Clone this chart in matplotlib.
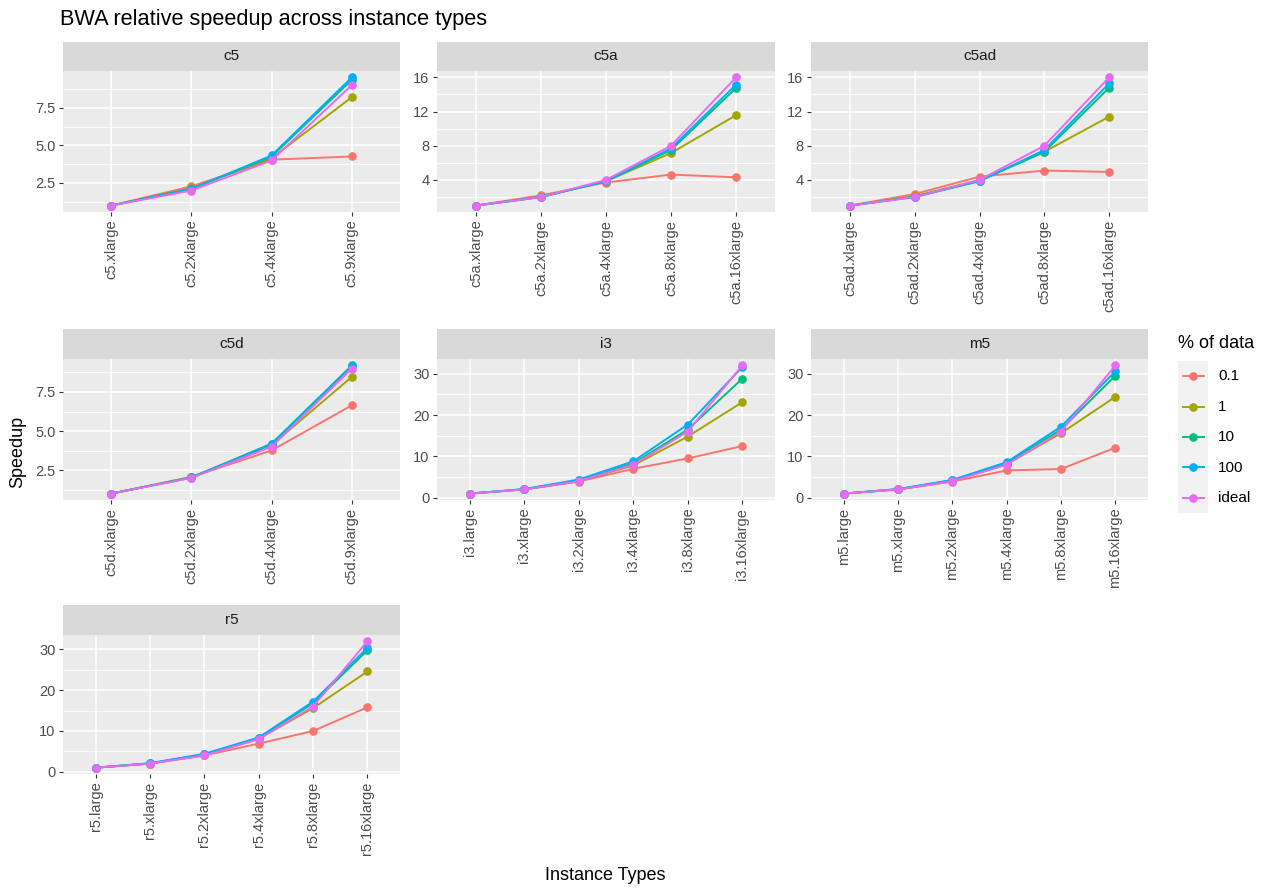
import matplotlib
matplotlib.use("Agg")
import matplotlib.pyplot as plt
import numpy as np

# data
families = ["c5", "c5a", "c5ad", "c5d", "i3", "m5", "r5"]
pct_levels = ["0.1", "1", "10", "100", "ideal"]
colors = ["#F8766D", "#A3A500", "#00BF7D", "#00B0F6", "#E76BF3"]

c5_types = ["c5.xlarge", "c5.2xlarge", "c5.4xlarge", "c5.9xlarge"]
c5_speedup = {
    "0.1": [1, 2.28, 4.05, 4.26],
    "1": [1, 2.15, 4.15, 8.2],
    "10": [1, 2.12, 4.25, 9.35],
    "100": [1, 2.1, 4.33, 9.51],
    "ideal": [1, 2, 4, 9],
}

c5a_types = ["c5a.xlarge", "c5a.2xlarge", "c5a.4xlarge", "c5a.8xlarge", "c5a.16xlarge"]
c5a_speedup = {
    "0.1": [1, 2.2, 3.7, 4.63, 4.31],
    "1": [1, 2.05, 3.85, 7.15, 11.57],
    "10": [1, 2.0, 3.85, 7.5, 14.75],
    "100": [1, 2.0, 3.85, 7.7, 15.15],
    "ideal": [1, 2, 4, 8, 16],
}

c5ad_types = ["c5ad.xlarge", "c5ad.2xlarge", "c5ad.4xlarge", "c5ad.8xlarge", "c5ad.16xlarge"]
c5ad_speedup = {
    "0.1": [1, 2.35, 4.39, 5.1, 4.94],
    "1": [1, 2.1, 4.0, 7.3, 11.4],
    "10": [1, 2.05, 3.9, 7.28, 14.8],
    "100": [1, 2.0, 3.85, 7.5, 15.3],
    "ideal": [1, 2, 4, 8, 16],
}

c5d_types = ["c5d.xlarge", "c5d.2xlarge", "c5d.4xlarge", "c5d.9xlarge"]
c5d_speedup = {
    "0.1": [1, 2.07, 3.76, 6.65],
    "1": [1, 2.05, 4.1, 8.47],
    "10": [1, 2.03, 4.2, 9.2],
    "100": [1, 2.02, 4.15, 9.15],
    "ideal": [1, 2, 4, 9],
}

i3_types = ["i3.large", "i3.xlarge", "i3.2xlarge", "i3.4xlarge", "i3.8xlarge", "i3.16xlarge"]
i3_speedup = {
    "0.1": [1, 2.0, 3.9, 7.0, 9.5, 12.5],
    "1": [1, 2.0, 4.0, 7.8, 14.8, 23.1],
    "10": [1, 2.05, 4.2, 8.3, 16.5, 28.8],
    "100": [1, 2.1, 4.4, 8.8, 17.7, 31.6],
    "ideal": [1, 2, 4, 8, 16, 32],
}

m5_types = ["m5.large", "m5.xlarge", "m5.2xlarge", "m5.4xlarge", "m5.8xlarge", "m5.16xlarge"]
m5_speedup = {
    "0.1": [1, 2.0, 3.9, 6.6, 6.95, 12.1],
    "1": [1, 2.0, 4.0, 8.1, 15.6, 24.4],
    "10": [1, 2.05, 4.2, 8.4, 16.5, 29.5],
    "100": [1, 2.1, 4.3, 8.6, 17.2, 30.6],
    "ideal": [1, 2, 4, 8, 16, 32],
}

r5_types = ["r5.large", "r5.xlarge", "r5.2xlarge", "r5.4xlarge", "r5.8xlarge", "r5.16xlarge"]
r5_speedup = {
    "0.1": [1, 2.0, 4.0, 6.9, 10.0, 15.8],
    "1": [1, 2.0, 4.1, 8.1, 15.6, 24.6],
    "10": [1, 2.05, 4.25, 8.3, 16.8, 29.8],
    "100": [1, 2.1, 4.4, 8.4, 17.2, 30.4],
    "ideal": [1, 2, 4, 8, 16, 32],
}

types = {"c5": c5_types, "c5a": c5a_types, "c5ad": c5ad_types, "c5d": c5d_types,
         "i3": i3_types, "m5": m5_types, "r5": r5_types}
speedups = {"c5": c5_speedup, "c5a": c5a_speedup, "c5ad": c5ad_speedup, "c5d": c5d_speedup,
            "i3": i3_speedup, "m5": m5_speedup, "r5": r5_speedup}
steps = {"c5": 2.5, "c5a": 4, "c5ad": 4, "c5d": 2.5, "i3": 10, "m5": 10, "r5": 10}

W, H = 1280, 896
fig = plt.figure(figsize=(W / 100, H / 100), dpi=100)
plt.rcParams['font.family'] = ['Liberation Sans', 'DejaVu Sans']


def rect(x0, y0, x1, y1):
    return [x0 / W, 1 - y1 / H, (x1 - x0) / W, (y1 - y0) / H]


cols = [(63, 400), (437, 775), (811, 1148)]
rows = [(42, 71, 212), (329, 359, 500), (605, 635, 774)]

for i, fam in enumerate(families):
    r, c = divmod(i, 3)
    x0, x1 = cols[c]
    st, top, bot = rows[r]

    # strip
    sax = fig.add_axes(rect(x0, st, x1, top))
    sax.set_facecolor("#D9D9D9")
    sax.set_xticks([])
    sax.set_yticks([])
    for s in sax.spines.values():
        s.set_visible(False)
    sax.text(0.5, 0.5, fam, ha="center", va="center", fontsize=11, color="#1A1A1A",
             transform=sax.transAxes)

    ax = fig.add_axes(rect(x0, top, x1, bot))
    ax.set_facecolor("#EBEBEB")
    for s in ax.spines.values():
        s.set_visible(False)

    labels = types[fam]
    xs = np.arange(len(labels))
    allv = np.concatenate([np.array(v, float) for v in speedups[fam].values()])
    lo, hi = allv.min(), allv.max()
    pad = 0.05 * (hi - lo)
    ax.set_ylim(lo - pad, hi + pad)
    ax.set_xlim(-0.6, len(labels) - 1 + 0.6)

    step = steps[fam]
    major = np.arange(0, hi + pad + 1e-9, step)
    major = major[major >= lo - pad]
    minor = np.arange(step / 2, hi + pad, step)
    minor = minor[(minor >= lo - pad) & (minor <= hi + pad)]
    for m in minor:
        ax.axhline(m, color="white", lw=0.6, zorder=0.5)
    for m in major:
        ax.axhline(m, color="white", lw=1.1, zorder=0.6)
    for xv in xs:
        ax.axvline(xv, color="white", lw=1.1, zorder=0.6)

    ax.set_yticks(major)
    if step != int(step):
        ax.set_yticklabels([f"{m:.1f}" for m in major])
    else:
        ax.set_yticklabels([f"{int(m)}" for m in major])
    ax.set_xticks(xs)
    ax.set_xticklabels(labels, rotation=90)
    ax.tick_params(axis="both", colors="#333333", labelcolor="#4D4D4D", labelsize=10.5,
                   length=3, width=0.8, pad=2.5)

    for lvl, col in zip(pct_levels, colors):
        ax.plot(xs, speedups[fam][lvl], color=col, lw=1.4, marker="o", ms=5.2, zorder=3)

# title and axis titles
fig.text(60 / W, 1 - 20 / H, "BWA relative speedup across instance types", fontsize=15.7,
         ha="left", va="center", color="black")
fig.text(18 / W, 1 - 452 / H, "Speedup", rotation=90, fontsize=13, ha="center", va="center")
fig.text(605 / W, 1 - 875 / H, "Instance Types", fontsize=13, ha="center", va="center")

# legend
fig.text(1178 / W, 1 - 343 / H, "% of data", fontsize=13, ha="left", va="center")
lax = fig.add_axes(rect(1178, 361, 1208, 513))
lax.set_facecolor("#F2F2F2")
lax.set_xlim(0, 1)
lax.set_ylim(len(pct_levels), 0)
lax.set_xticks([])
lax.set_yticks([])
for s in lax.spines.values():
    s.set_visible(False)
for k, (lvl, col) in enumerate(zip(pct_levels, colors)):
    yk = k + 0.5
    lax.plot([0.15, 0.85], [yk, yk], color=col, lw=1.4)
    lax.plot([0.5], [yk], color=col, marker="o", ms=5.2)
    fig.text(1218 / W, 1 - (376 + k * 30.5) / H, lvl, fontsize=11, ha="left", va="center")

fig.savefig("out.png", dpi=100, facecolor="white")
